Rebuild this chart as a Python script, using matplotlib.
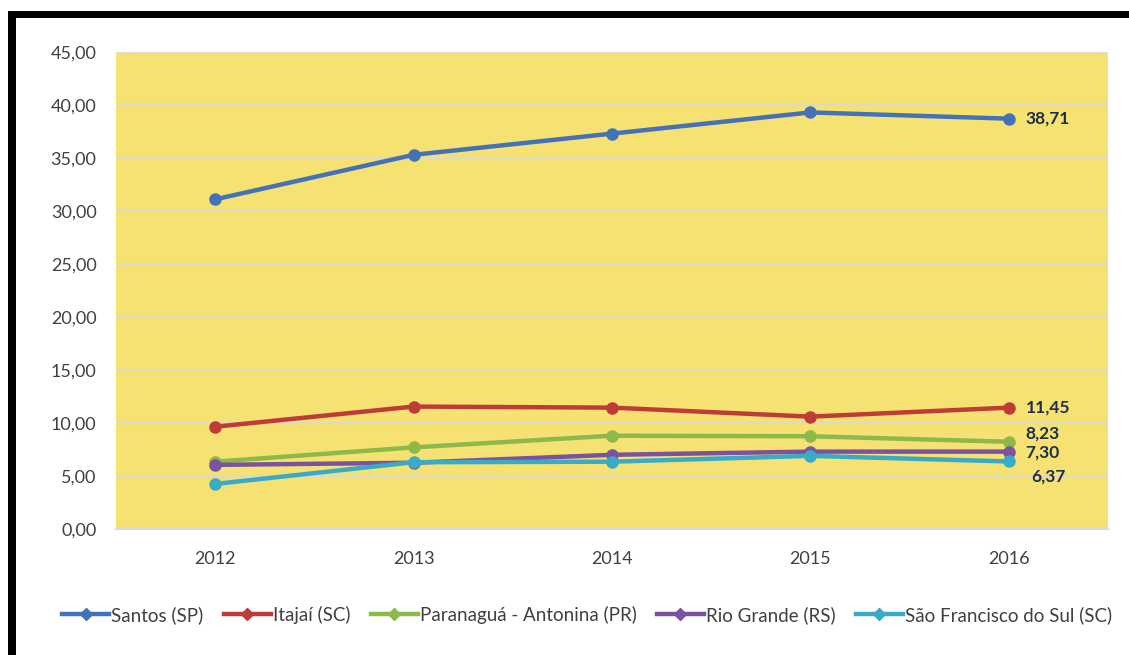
import matplotlib.pyplot as plt
from matplotlib.lines import Line2D
from matplotlib.patches import Rectangle

plt.rcParams['font.family'] = ['Lato', 'DejaVu Sans']

# movimentação por porto, 2012-2016
anos = ['2012', '2013', '2014', '2015', '2016']
santos = [31.1, 35.3, 37.3, 39.3, 38.71]
itajai = [9.65, 11.55, 11.45, 10.6, 11.45]
paranagua = [6.35, 7.7, 8.8, 8.75, 8.23]
rio_grande = [6.05, 6.25, 7.0, 7.3, 7.30]
sao_francisco = [4.25, 6.3, 6.35, 6.9, 6.37]

series = [
    ('Santos (SP)', santos, '#4472b8'),
    ('Itajaí (SC)', itajai, '#be3b36'),
    ('Paranaguá - Antonina (PR)', paranagua, '#8db84a'),
    ('Rio Grande (RS)', rio_grande, '#7b52a1'),
    ('São Francisco do Sul (SC)', sao_francisco, '#3aaac9'),
]

# rótulos do último ano, com deslocamento em pontos
rotulos = [(santos[-1], 12, 0), (itajai[-1], 12, 0), (paranagua[-1], 12, 6),
           (rio_grande[-1], 12, -1), (sao_francisco[-1], 16, -11)]

fig = plt.figure(figsize=(11.29, 6.55), dpi=100)
ax = fig.add_axes([116 / 1129, 1 - 529 / 655, (1108 - 116) / 1129, (529 - 52) / 655])
ax.set_facecolor('#f5e272')

x = range(len(anos))
for nome, valores, cor in series:
    ax.plot(x, valores, color=cor, lw=3.2, marker='o', ms=8, label=nome,
            solid_capstyle='round', zorder=3)

for valor, dx, dy in rotulos:
    ax.annotate(f'{valor:.2f}'.replace('.', ','), (4, valor),
                xytext=(dx, dy), textcoords='offset points',
                ha='left', va='center', fontsize=12.5, fontweight='bold',
                color='#1f2e4d', zorder=4)

ax.set_xlim(-0.5, 4.5)
ax.set_ylim(0, 45)
ax.set_yticks(range(0, 46, 5))
ax.set_yticklabels([f'{v:.2f}'.replace('.', ',') for v in range(0, 46, 5)])
ax.set_xticks(list(x))
ax.set_xticklabels(anos)
ax.yaxis.grid(True, color='#dcdac8', lw=1.5)
ax.set_axisbelow(True)
for lado in ['top', 'right', 'left']:
    ax.spines[lado].set_visible(False)
ax.spines['bottom'].set_color('#d9d9d9')
ax.spines['bottom'].set_linewidth(1.5)
ax.tick_params(length=0, labelsize=13, colors='#404040', pad=14)
ax.tick_params(axis='x', pad=16)

alcas = [Line2D([], [], color=c, lw=3.2, marker='D', ms=6) for _, _, c in series]
fig.legend(alcas, [s[0] for s in series], loc='center', bbox_to_anchor=(0.52, 1 - 615 / 655),
           ncol=5, frameon=False, fontsize=13.5, handlelength=2.5, handletextpad=0.1,
           columnspacing=1.1, labelcolor='#404040')

# moldura preta superior e esquerda
fig.add_artist(Rectangle((8 / 1129, 1 - 18 / 655), 1, 7 / 655, transform=fig.transFigure,
                         color='black', lw=0))
fig.add_artist(Rectangle((8 / 1129, 0), 8 / 1129, 1 - 11 / 655, transform=fig.transFigure,
                         color='black', lw=0))

fig.savefig('out.png', dpi=100)
